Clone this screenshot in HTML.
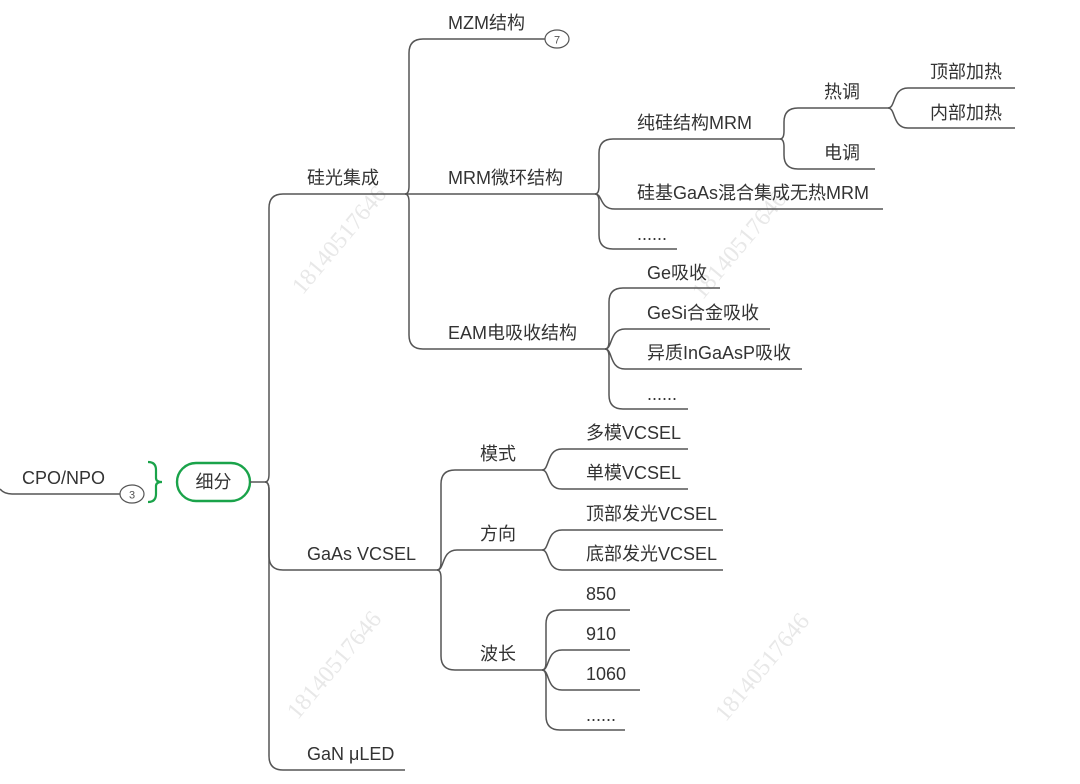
<!DOCTYPE html>
<html><head><meta charset="utf-8"><style>
html,body{margin:0;padding:0;background:#fff;width:1080px;height:784px;overflow:hidden}
svg{display:block}
text{font-family:"Liberation Sans","Noto Sans CJK SC",sans-serif;font-size:18px;fill:#333}
.wm{font-family:"Liberation Serif","Noto Serif CJK SC",serif;font-size:24px;fill:#e8e8e8}
path{fill:none;stroke:#555;stroke-width:1.5}
</style></head><body>
<svg width="1080" height="784" viewBox="0 0 1080 784">
<g>
<text class="wm" transform="translate(345,245) rotate(-50)" text-anchor="middle">18140517646</text>
<text class="wm" transform="translate(745,250) rotate(-50)" text-anchor="middle">18140517646</text>
<text class="wm" transform="translate(340,670) rotate(-50)" text-anchor="middle">18140517646</text>
<text class="wm" transform="translate(768,672) rotate(-50)" text-anchor="middle">18140517646</text>
</g>
<!-- CPO -->
<path d="M0,489 Q4,494 12,494 L120,494"/>
<ellipse cx="132" cy="494" rx="12" ry="9" fill="#fff" stroke="#555" stroke-width="1.2"/>
<text x="132" y="498.5" text-anchor="middle" style="font-size:11px;fill:#555">3</text>
<text x="22" y="484">CPO/NPO</text>
<path d="M148,462 Q156,462 156,470 L156,478 Q156,482 162,482 Q156,482 156,486 L156,494 Q156,502 148,502" style="stroke:#1aa34a;stroke-width:2.2"/>
<rect x="177" y="463" width="73" height="38" rx="19" fill="#fff" stroke="#1aa34a" stroke-width="2.4"/>
<text x="213.5" y="488" text-anchor="middle">细分</text>
<path d="M250,482 L265,482"/>
<!-- main trunk -->
<path d="M265,482 Q269,482 269,474 L269,208 Q269,194 283,194 L405,194"/>
<path d="M265,482 Q269,482 269,490 L269,556 Q269,570 283,570 L437,570"/>
<path d="M265,482 Q269,482 269,490 L269,756 Q269,770 283,770 L405,770"/>
<text x="307" y="184">硅光集成</text>
<text x="307" y="560">GaAs VCSEL</text>
<text x="307" y="760">GaN μLED</text>
<!-- 硅光 -->
<path d="M405,194 Q409,194 409,186 L409,53 Q409,39 423,39 L545,39"/>
<path d="M405,194 L595,194"/>
<path d="M405,194 Q409,194 409,202 L409,335 Q409,349 423,349 L605,349"/>
<ellipse cx="557" cy="39" rx="12" ry="9" fill="#fff" stroke="#555" stroke-width="1.2"/>
<text x="557" y="43.5" text-anchor="middle" style="font-size:11px;fill:#555">7</text>
<text x="448" y="29">MZM结构</text>
<text x="448" y="184">MRM微环结构</text>
<text x="448" y="339">EAM电吸收结构</text>
<!-- MRM -->
<path d="M595,194 Q599,194 599,186 L599,153 Q599,139 613,139 L780,139"/>
<path d="M595,194 C603,194 599,209 615,209 L883,209"/>
<path d="M595,194 Q599,194 599,202 L599,235 Q599,249 613,249 L677,249"/>
<text x="637" y="129">纯硅结构MRM</text>
<text x="637" y="199">硅基GaAs混合集成无热MRM</text>
<text x="637" y="240">......</text>
<path d="M780,139 Q784,139 784,131 L784,122 Q784,108 798,108 L888,108"/>
<path d="M780,139 Q784,139 784,147 L784,155 Q784,169 798,169 L875,169"/>
<text x="824" y="98">热调</text>
<text x="824" y="159">电调</text>
<path d="M888,108 C896,108 892,88 908,88 L1015,88"/>
<path d="M888,108 C896,108 892,128 908,128 L1015,128"/>
<text x="930" y="78">顶部加热</text>
<text x="930" y="119">内部加热</text>
<!-- EAM -->
<path d="M605,349 Q609,349 609,341 L609,302 Q609,288 623,288 L720,288"/>
<path d="M605,349 C613,349 609,329 625,329 L770,329"/>
<path d="M605,349 C613,349 609,369 625,369 L802,369"/>
<path d="M605,349 Q609,349 609,357 L609,395 Q609,409 623,409 L688,409"/>
<text x="647" y="279">Ge吸收</text>
<text x="647" y="319">GeSi合金吸收</text>
<text x="647" y="359">异质InGaAsP吸收</text>
<text x="647" y="400">......</text>
<!-- GaAs -->
<path d="M437,570 Q441,570 441,562 L441,484 Q441,470 455,470 L542,470"/>
<path d="M437,570 C445,570 441,550 457,550 L542,550"/>
<path d="M437,570 Q441,570 441,578 L441,656 Q441,670 455,670 L542,670"/>
<text x="480" y="460">模式</text>
<text x="480" y="540">方向</text>
<text x="480" y="660">波长</text>
<path d="M542,470 C550,470 546,449 562,449 L688,449"/>
<path d="M542,470 C550,470 546,489 562,489 L688,489"/>
<text x="586" y="439">多模VCSEL</text>
<text x="586" y="479">单模VCSEL</text>
<path d="M542,550 C550,550 546,530 562,530 L723,530"/>
<path d="M542,550 C550,550 546,570 562,570 L723,570"/>
<text x="586" y="520">顶部发光VCSEL</text>
<text x="586" y="560">底部发光VCSEL</text>
<path d="M542,670 Q546,670 546,662 L546,624 Q546,610 560,610 L630,610"/>
<path d="M542,670 C550,670 546,650 562,650 L630,650"/>
<path d="M542,670 C550,670 546,690 562,690 L640,690"/>
<path d="M542,670 Q546,670 546,678 L546,716 Q546,730 560,730 L625,730"/>
<text x="586" y="600">850</text>
<text x="586" y="640">910</text>
<text x="586" y="680">1060</text>
<text x="586" y="721">......</text>
</svg>
</body></html>
